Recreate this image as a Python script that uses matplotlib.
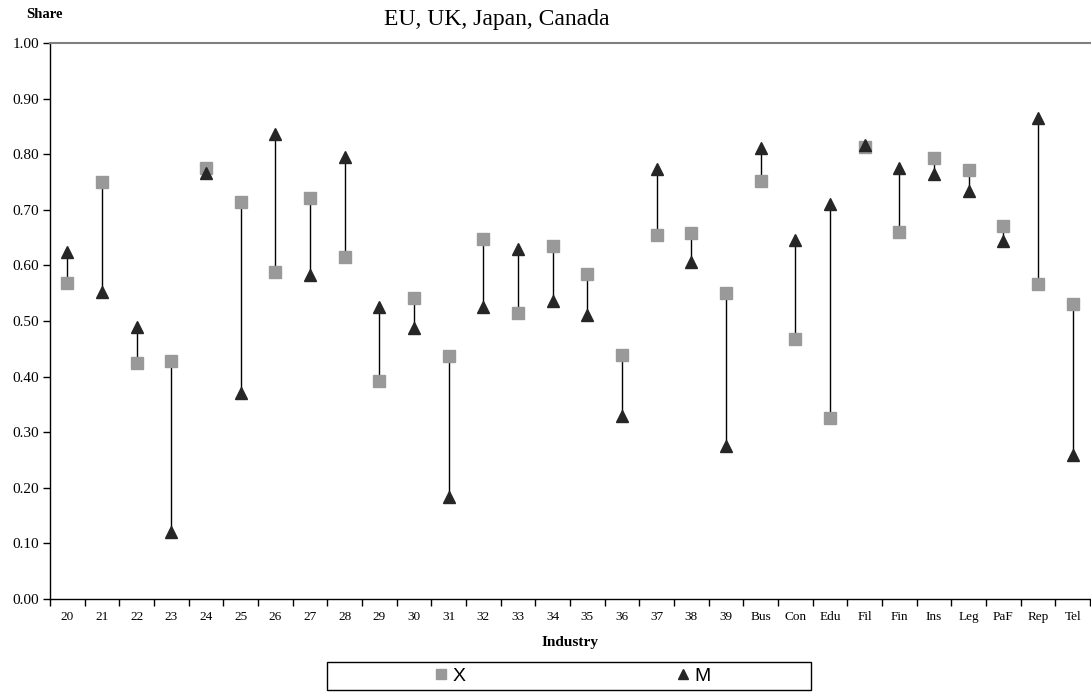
import matplotlib
matplotlib.use("Agg")
import matplotlib.pyplot as plt
from matplotlib.patches import Rectangle
import numpy as np

categories = ["20", "21", "22", "23", "24", "25", "26", "27", "28", "29",
              "30", "31", "32", "33", "34", "35", "36", "37", "38", "39",
              "Bus", "Con", "Edu", "Fil", "Fin", "Ins", "Leg", "PaF", "Rep", "Tel"]
x_share = [0.568, 0.750, 0.424, 0.428, 0.776, 0.714, 0.589, 0.721, 0.616, 0.392,
           0.541, 0.437, 0.648, 0.514, 0.634, 0.585, 0.439, 0.654, 0.658, 0.551,
           0.752, 0.467, 0.325, 0.813, 0.660, 0.794, 0.772, 0.670, 0.567, 0.530]
m_share = [0.625, 0.553, 0.490, 0.120, 0.766, 0.370, 0.836, 0.583, 0.795, 0.526,
           0.487, 0.183, 0.526, 0.630, 0.536, 0.511, 0.330, 0.773, 0.607, 0.276,
           0.811, 0.646, 0.710, 0.816, 0.776, 0.764, 0.733, 0.644, 0.866, 0.259]
y_ticks = [0.0, 0.1, 0.2, 0.3, 0.4, 0.5, 0.6, 0.7, 0.8, 0.9, 1.0]

plt.rcParams['font.family'] = ['Liberation Serif', 'DejaVu Serif']

W, H = 1091, 692
fig = plt.figure(figsize=(W / 100, H / 100), dpi=100)
ax = fig.add_axes([50 / W, 1 - 599 / H, 1040 / W, (599 - 43) / H])

pos = np.arange(len(categories))
ax.vlines(pos, x_share, m_share, color='black', lw=1.0, zorder=2)
ax.plot(pos, x_share, linestyle='none', marker='s', markersize=8.3,
        color='#999999', markeredgecolor='#999999', zorder=3, label='X')
ax.plot(pos, m_share, linestyle='none', marker='^', markersize=8.3,
        color='#262626', markeredgecolor='#262626', zorder=4, label='M')

ax.set_xlim(-0.5, len(categories) - 0.5)
ax.set_ylim(0, 1.0)
ax.set_yticks(y_ticks)
ax.set_yticklabels([f"{v:.2f}" for v in y_ticks], fontsize=11)
ax.set_xticks(np.arange(-0.5, len(categories), 1.0))
ax.set_xticklabels([])
ax.set_xticks(pos, minor=True)
ax.set_xticklabels(categories, minor=True, fontsize=9.5)
ax.tick_params(axis='x', which='minor', length=0, pad=8.5)
ax.tick_params(axis='x', which='major', length=5, width=1, direction='out')
ax.tick_params(axis='y', length=5, width=1, direction='out', pad=3)

ax.spines['right'].set_visible(False)
ax.spines['top'].set_color('#808080')
ax.spines['top'].set_linewidth(1.5)
ax.spines['left'].set_linewidth(1)
ax.spines['bottom'].set_linewidth(1)

ax.set_xlabel("Industry", fontsize=11, fontweight='bold')
ax.xaxis.set_label_coords(0.5, (599 - 636) / 556)

fig.text(497 / W, 1 - 20 / H, "EU, UK, Japan, Canada", fontsize=17,
         ha='center', va='center')
fig.text(44 / W, 1 - 15 / H, "Share", fontsize=10.5, fontweight='bold',
         ha='center', va='center')

# legend box
fig.patches.append(Rectangle((327 / W, 1 - 690 / H), 484 / W, 28 / H,
                             transform=fig.transFigure, fill=False,
                             edgecolor='black', lw=1))
leg = fig.legend(loc='center', bbox_to_anchor=(573 / W, 1 - 676 / H), ncol=2,
                 frameon=False, prop={'family': 'Liberation Sans', 'size': 14},
                 handlelength=0.6, handletextpad=0.3, columnspacing=10.9,
                 markerscale=0.8)

fig.savefig("out.png", dpi=100)
